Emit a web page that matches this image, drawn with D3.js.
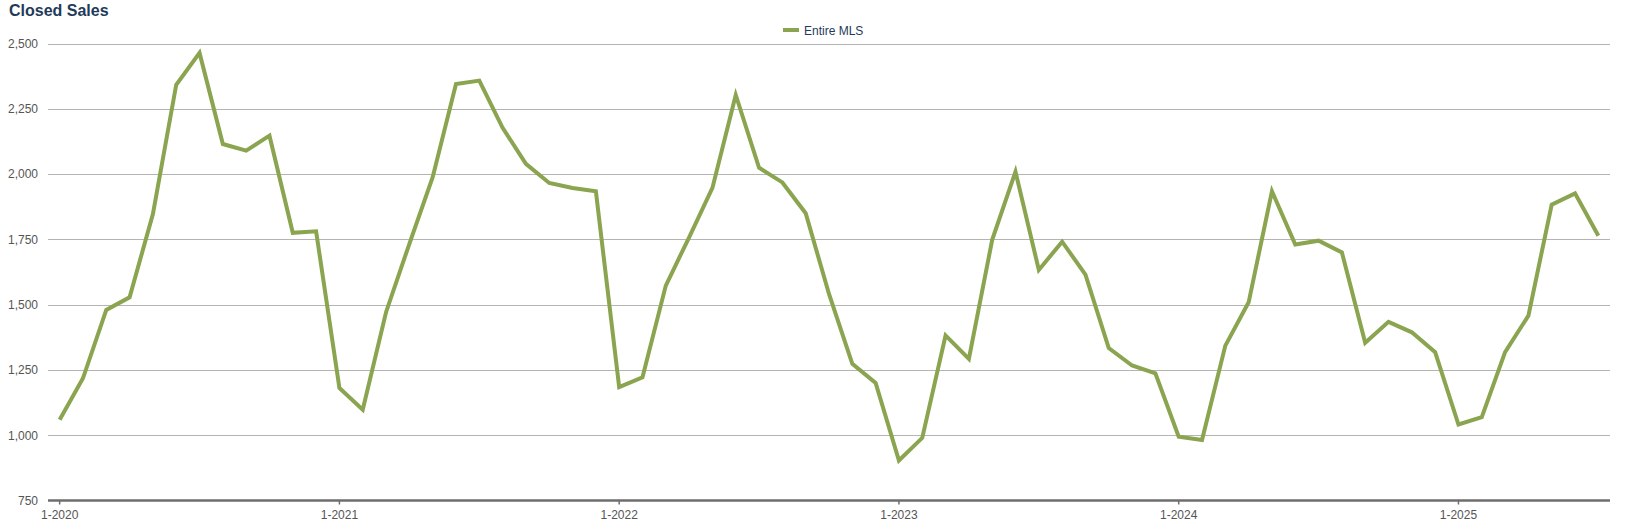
<!DOCTYPE html>
<html>
<head>
<meta charset="utf-8">
<script src="https://cdn.jsdelivr.net/npm/d3@7"></script>
<style>
  html, body { margin: 0; padding: 0; background: #fff; }
  svg { display: block; }
</style>
</head>
<body>
<svg id="chart" width="1625" height="524"></svg>
<script>
const title = "Closed Sales";
const seriesName = "Entire MLS";
const months = [
  "1-2020","2-2020","3-2020","4-2020","5-2020","6-2020","7-2020","8-2020","9-2020","10-2020","11-2020","12-2020",
  "1-2021","2-2021","3-2021","4-2021","5-2021","6-2021","7-2021","8-2021","9-2021","10-2021","11-2021","12-2021",
  "1-2022","2-2022","3-2022","4-2022","5-2022","6-2022","7-2022","8-2022","9-2022","10-2022","11-2022","12-2022",
  "1-2023","2-2023","3-2023","4-2023","5-2023","6-2023","7-2023","8-2023","9-2023","10-2023","11-2023","12-2023",
  "1-2024","2-2024","3-2024","4-2024","5-2024","6-2024","7-2024","8-2024","9-2024","10-2024","11-2024","12-2024",
  "1-2025","2-2025","3-2025","4-2025","5-2025","6-2025","7-2025"
];
const sales = [
  1059, 1218, 1480, 1528, 1847, 2342, 2464, 2115, 2090, 2147, 1775, 1781,
  1181, 1098, 1471, 1733, 1988, 2345, 2358, 2177, 2039, 1966, 1947, 1934,
  1184, 1222, 1573, 1758, 1947, 2303, 2024, 1968, 1850, 1541, 1273, 1200,
  903, 990, 1382, 1292, 1748, 2009, 1633, 1741, 1615, 1334, 1267, 1237,
  994, 982, 1343, 1509, 1934, 1730, 1745, 1700, 1354, 1434, 1394, 1318,
  1041, 1069, 1318, 1458, 1883, 1926, 1764
];
const yTicks = [750, 1000, 1250, 1500, 1750, 2000, 2250, 2500];
const xTickLabels = ["1-2020","1-2021","1-2022","1-2023","1-2024","1-2025"];

(function () {
const svg = d3.select("#chart");
const mLeft = 48, mRight = 1610, mTop = 43.5, mBottom = 500.5;
const lineColor = "#8aa44f";
const navy = "#1f3b5a";
const font = "Liberation Sans, Arial, sans-serif";

const x = d3.scaleBand().domain(months).range([mLeft, mRight]).paddingInner(0).paddingOuter(0);
const xc = d => x(d) + x.bandwidth() / 2;
const y = d3.scaleLinear().domain([750, 2500]).range([mBottom, mTop]);

// title
svg.append("text").attr("x", 9).attr("y", 16)
  .attr("font-family", font)
  .attr("font-size", 16).attr("font-weight", "bold").attr("fill", navy)
  .text(title);

// y axis labels
const yAxis = d3.axisLeft(y).tickValues(yTicks).tickSize(0).tickPadding(10)
  .tickFormat(d3.format(","));
const gy = svg.append("g").attr("transform", `translate(${mLeft},0)`).call(yAxis);
gy.select(".domain").remove();
gy.selectAll("text").attr("font-family", font)
  .attr("font-size", 12).attr("fill", "#555");

// gridlines
svg.append("g").selectAll("line").data(yTicks.filter(t => t !== 750)).join("line")
  .attr("x1", mLeft).attr("x2", mRight)
  .attr("y1", d => Math.round(y(d)) + 0.5).attr("y2", d => Math.round(y(d)) + 0.5)
  .attr("stroke", "#b4b4b4").attr("stroke-width", 1);

// x axis
const xAxis = d3.axisBottom(x).tickValues(xTickLabels).tickSize(4).tickPadding(6);
const gx = svg.append("g").attr("transform", `translate(0,${mBottom})`).call(xAxis);
gx.select(".domain").attr("stroke", "#6e6e6e").attr("stroke-width", 2.5)
  .attr("d", `M${mLeft},0H${mRight}`);
gx.selectAll(".tick line").attr("stroke", "#6e6e6e").attr("stroke-width", 1.5);
gx.selectAll("text").attr("font-family", font)
  .attr("font-size", 12).attr("fill", "#555");

// line
const line = d3.line().x((d, i) => xc(months[i])).y(d => y(d));
svg.append("path").datum(sales).attr("d", line)
  .attr("fill", "none").attr("stroke", lineColor).attr("stroke-width", 4)
  .attr("stroke-linejoin", "miter").attr("stroke-linecap", "butt");

// legend
const lg = svg.append("g").attr("transform", "translate(783,30)");
lg.append("line").attr("x1", 0).attr("x2", 16).attr("y1", 0).attr("y2", 0)
  .attr("stroke", lineColor).attr("stroke-width", 4);
lg.append("text").attr("x", 21).attr("y", 4.5)
  .attr("font-family", font)
  .attr("font-size", 12).attr("fill", navy).text(seriesName);
})();
</script>
</body>
</html>
